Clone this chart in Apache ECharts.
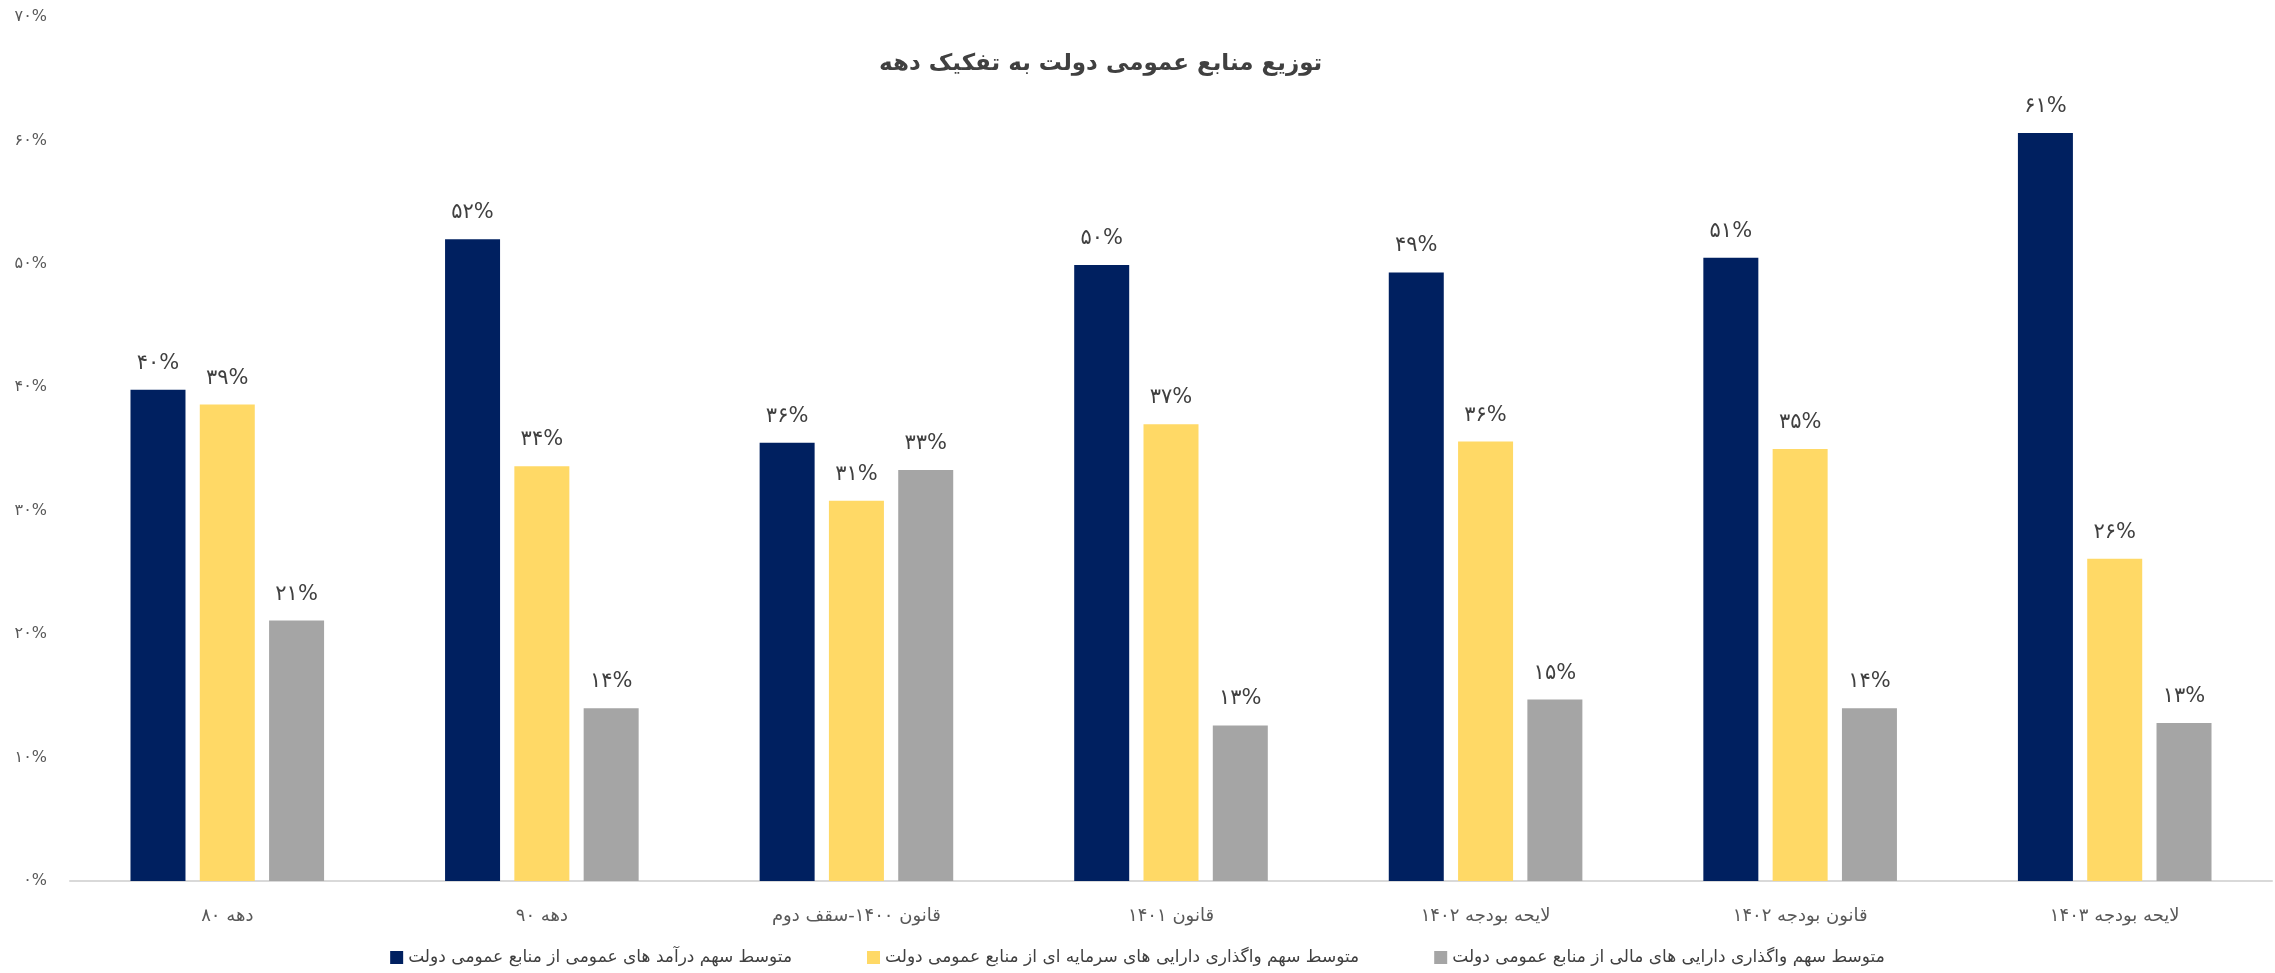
<!DOCTYPE html>
<html>
<head>
<meta charset="utf-8">
<script src="https://cdn.jsdelivr.net/npm/echarts@6/dist/echarts.min.js"></script>
<style>
  html, body { margin: 0; padding: 0; background: #fff; }
  #chart { width: 2275px; height: 973px; }
</style>
</head>
<body>
<div id="chart"></div>
<script>
const categories = ['دهه ۸۰', 'دهه ۹۰', 'قانون ۱۴۰۰-سقف دوم', 'قانون ۱۴۰۱', 'لایحه بودجه ۱۴۰۲', 'قانون بودجه ۱۴۰۲', 'لایحه بودجه ۱۴۰۳']
const seriesNames = [
  'متوسط سهم درآمد های عمومی از منابع عمومی دولت',
  'متوسط سهم واگذاری دارایی های سرمایه ای از منابع عمومی دولت',
  'متوسط سهم واگذاری دارایی های مالی از منابع عمومی دولت'
]
const revenueShare = [39.8, 52.0, 35.5, 49.9, 49.3, 50.5, 60.6]
const capitalAssetShare = [38.6, 33.6, 30.8, 37.0, 35.6, 35.0, 26.1]
const financialAssetShare = [21.1, 14.0, 33.3, 12.6, 14.7, 14.0, 12.8]
const colors = ['#002060', '#FFD966', '#A5A5A5']

const fontFamily = '"DejaVu Sans", "Noto Sans", sans-serif'

// western -> persian digits
function fa(s) {
  return String(s).replace(/[0-9]/g, d => '۰۱۲۳۴۵۶۷۸۹'[d])
}

const chart = echarts.init(document.getElementById('chart'))

function barSeries(name, data, color) {
  return {
    name,
    type: 'bar',
    data,
    barWidth: 55,
    barGap: '26%',
    itemStyle: { color },
    label: {
      show: true,
      position: 'top',
      distance: 16,
      color: '#404040',
      fontSize: 21,
      fontFamily,
      formatter: p => fa(Math.round(p.value)) + '%'
    }
  }
}

chart.setOption({
  animation: false,
  title: {
    text: 'توزیع منابع عمومی دولت به تفکیک دهه',
    left: 874,
    top: 48,
    textStyle: {
      fontSize: 23,
      fontWeight: 'bold',
      color: '#404040',
      fontFamily
    }
  },
  legend: {
    bottom: 2,
    left: 'center',
    itemWidth: 13,
    itemHeight: 13,
    itemGap: 75,
    icon: 'rect',
    textStyle: { fontSize: 17, color: '#404040', fontFamily }
  },
  grid: {
    left: 70,
    right: 3,
    top: 17,
    bottom: 92
  },
  xAxis: {
    type: 'category',
    data: categories,
    axisLine: { lineStyle: { color: '#d9d9d9', width: 2 } },
    axisTick: { show: false },
    axisLabel: { color: '#595959', fontSize: 18, margin: 26, fontFamily }
  },
  yAxis: {
    type: 'value',
    min: 0,
    max: 70,
    interval: 10,
    splitLine: { show: false },
    axisLine: { show: false },
    axisTick: { show: false },
    axisLabel: {
      color: '#595959',
      fontSize: 16,
      margin: 23,
      fontFamily,
      formatter: v => fa(v) + '%'
    }
  },
  series: [
    barSeries(seriesNames[0], revenueShare, colors[0]),
    barSeries(seriesNames[1], capitalAssetShare, colors[1]),
    barSeries(seriesNames[2], financialAssetShare, colors[2])
  ]
})
</script>
</body>
</html>
